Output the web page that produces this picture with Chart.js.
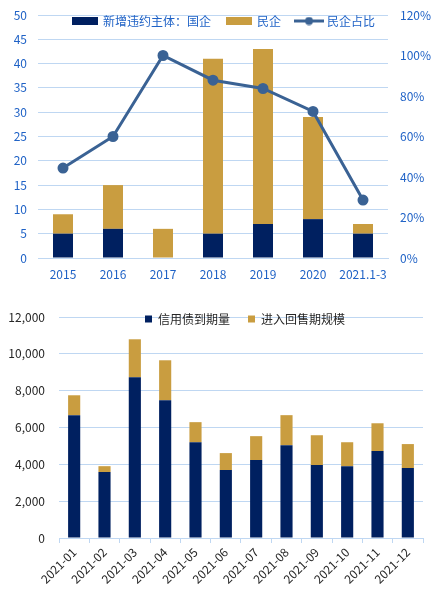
<!DOCTYPE html>
<html><head><meta charset="utf-8">
<script src="https://cdn.jsdelivr.net/npm/chart.js@4.4.0/dist/chart.umd.min.js"></script>
<style>
html,body{margin:0;padding:0;background:#fff;}
#wrap{position:relative;width:440px;height:590px;overflow:hidden;}
#c1{position:absolute;left:0;top:0;}
#c2{position:absolute;left:0;top:300px;}
</style></head><body>
<div id="wrap"><canvas id="c1" width="440" height="290"></canvas><canvas id="c2" width="440" height="290"></canvas></div>
<script>
// ---- Data: top chart ----
const years = ['2015','2016','2017','2018','2019','2020','2021.1-3'];
const soeDefaults = [5, 6, 0, 5, 7, 8, 5];
const privateDefaults = [4, 9, 6, 36, 36, 21, 2];
const privateShare = [44.4, 60.0, 100.0, 87.8, 83.7, 72.4, 28.6];
const topLegendLabels = ['新增违约主体：国企', '民企', '民企占比'];

// ---- Data: bottom chart ----
const months = ['2021-01','2021-02','2021-03','2021-04','2021-05','2021-06','2021-07','2021-08','2021-09','2021-10','2021-11','2021-12'];
const maturity = [6670, 3580, 8730, 7480, 5200, 3690, 4230, 5040, 3960, 3900, 4720, 3800];
const putback = [1080, 320, 2060, 2170, 1090, 920, 1300, 1630, 1620, 1300, 1510, 1300];
const bottomLegendLabels = ['信用债到期量', '进入回售期规模'];

const NAVY = '#002060';
const GOLD = '#C99D40';
const LINE = '#3A6294';
const BLUE_TXT = '#1F62C6';
const GRID = '#BFD7F2';
const DARK_TXT = '#262626';

Chart.defaults.font.family = '"Noto Sans CJK SC", "Noto Sans", sans-serif';
Chart.defaults.font.size = 12;

function rectIcon(w, h, color) {
  const c = document.createElement('canvas'); c.width = w; c.height = h;
  const x = c.getContext('2d'); x.fillStyle = color; x.fillRect(0, 0, w, h); return c;
}
function lineIcon(w, h, color) {
  const c = document.createElement('canvas'); c.width = w; c.height = h;
  const x = c.getContext('2d');
  x.strokeStyle = color; x.lineWidth = 3;
  x.beginPath(); x.moveTo(0, h / 2); x.lineTo(w, h / 2); x.stroke();
  x.fillStyle = color; x.beginPath(); x.arc(w / 2, h / 2, 4, 0, Math.PI * 2); x.fill();
  return c;
}

function legendPlacer(dx, centerY) {
  return {
    id: 'legendPlacer',
    beforeLayout(chart) {
      const lg = chart.legend;
      if (lg && !lg._patched) {
        const fit = lg.fit;
        lg.fit = function () { fit.call(this); this._realHeight = this.height; this.height = 0; };
        lg._patched = true;
      }
    },
    afterLayout(chart) {
      const lg = chart.legend;
      const pad = lg.options.labels.padding;
      const h = lg._realHeight;
      lg.left = dx; lg.right = chart.width + dx; lg.width = chart.width;
      lg.top = centerY - pad - 6; lg.bottom = lg.top + h; lg.height = h;
    }
  };
}

function fixV(width) {
  return s => { s.width = width; s.paddingTop = 0; s.paddingBottom = 0; };
}

// ---- Top chart ----
const icons = [rectIcon(26, 8, NAVY), rectIcon(26, 8, GOLD), lineIcon(30, 9, LINE)];
new Chart(document.getElementById('c1'), {
  data: {
    labels: years,
    datasets: [
      { type: 'bar', label: topLegendLabels[0], data: soeDefaults, backgroundColor: NAVY, yAxisID: 'y', order: 2, stack: 's' },
      { type: 'bar', label: topLegendLabels[1], data: privateDefaults, backgroundColor: GOLD, yAxisID: 'y', order: 2, stack: 's' },
      { type: 'line', label: topLegendLabels[2], data: privateShare, borderColor: LINE, backgroundColor: LINE, borderWidth: 3,
        pointRadius: 4, pointBackgroundColor: LINE, pointBorderColor: LINE, yAxisID: 'y1', order: 0, tension: 0 }
    ]
  },
  options: {
    responsive: false, animation: false, devicePixelRatio: 1,
    layout: { padding: { top: 15, left: 0, right: 0, bottom: 0 } },
    datasets: { bar: { barPercentage: 0.4, categoryPercentage: 1.0 } },
    plugins: {
      tooltip: { enabled: false },
      legend: {
        display: true, position: 'top',
        labels: {
          usePointStyle: true, pointStyleWidth: 24, boxHeight: 12, padding: 16,
          font: { size: 12 },
          generateLabels: () => topLegendLabels.map((t, i) => ({
            text: t, fillStyle: 'transparent', strokeStyle: 'transparent', lineWidth: 0,
            pointStyle: icons[i], hidden: false, datasetIndex: i, fontColor: BLUE_TXT
          }))
        }
      }
    },
    scales: {
      x: {
        stacked: true,
        grid: { display: false },
        border: { display: true, color: GRID },
        ticks: { color: BLUE_TXT, padding: 1, font: { size: 12 }, maxRotation: 0, minRotation: 0, autoSkip: false },
        afterFit: s => { s.height = 32; s.paddingLeft = 0; s.paddingRight = 0; }
      },
      y: {
        stacked: true, position: 'left', min: 0, max: 50,
        grid: { color: GRID, drawTicks: false },
        border: { display: false },
        ticks: { stepSize: 5, color: BLUE_TXT, padding: 11, font: { size: 12 } },
        afterFit: fixV(38)
      },
      y1: {
        position: 'right', min: 0, max: 120,
        grid: { display: false, drawTicks: false },
        border: { display: false },
        ticks: { stepSize: 20, color: BLUE_TXT, padding: 12, font: { size: 12 }, callback: v => v + '%' },
        afterFit: fixV(52)
      }
    }
  },
  plugins: [legendPlacer(4, 21)]
});

// ---- Bottom chart ----
new Chart(document.getElementById('c2'), {
  type: 'bar',
  data: {
    labels: months,
    datasets: [
      { label: bottomLegendLabels[0], data: maturity, backgroundColor: NAVY, borderWidth: 0 },
      { label: bottomLegendLabels[1], data: putback, backgroundColor: GOLD, borderWidth: 0 }
    ]
  },
  options: {
    responsive: false, animation: false, devicePixelRatio: 1,
    layout: { padding: { top: 17, left: 0, right: 17, bottom: 0 } },
    datasets: { bar: { barPercentage: 0.4, categoryPercentage: 1.0 } },
    plugins: {
      tooltip: { enabled: false },
      legend: {
        display: true, position: 'top',
        labels: { boxWidth: 7, boxHeight: 7, padding: 18, color: DARK_TXT, font: { size: 12 } }
      }
    },
    scales: {
      x: {
        stacked: true,
        grid: { display: true, drawOnChartArea: false, drawTicks: true, tickLength: 5, color: GRID, offset: true },
        border: { display: true, color: GRID },
        ticks: { color: DARK_TXT, minRotation: 45, maxRotation: 45, autoSkip: false, padding: 2, font: { size: 12 } },
        afterFit: s => { s.height = 52; s.paddingLeft = 0; s.paddingRight = 0; }
      },
      y: {
        stacked: true, min: 0, max: 12000,
        grid: { color: GRID, drawTicks: false },
        border: { display: false },
        ticks: { stepSize: 2000, color: DARK_TXT, padding: 14, font: { size: 12 },
          callback: v => v.toLocaleString('en-US') },
        afterFit: fixV(59)
      }
    }
  },
  plugins: [legendPlacer(25, 19)]
});
</script>
</body></html>
